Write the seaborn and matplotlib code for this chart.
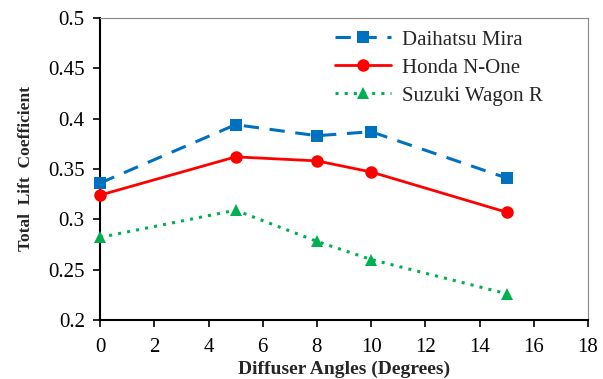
import matplotlib
matplotlib.use("Agg")
import matplotlib.pyplot as plt
import seaborn as sns
import pandas as pd

angles = [0, 5, 8, 10, 15]
daihatsu = [0.336, 0.394, 0.383, 0.387, 0.341]
honda = [0.324, 0.362, 0.358, 0.347, 0.307]
suzuki = [0.282, 0.309, 0.278, 0.260, 0.226]
names = ["Daihatsu Mira", "Honda N-One", "Suzuki Wagon R"]
colors = ["#0070C0", "#FF0000", "#00B050"]

sns.set_style("ticks")
plt.rcParams['font.family'] = ['Liberation Serif', 'DejaVu Serif']

fig = plt.figure(figsize=(6.03, 3.79), dpi=100)
ax = fig.add_axes([0.166, 0.156, 0.809, 0.7965])

styles = [dict(ls=(0, (5, 3.5)), marker="s", ms=9),
          dict(ls="-", marker="o", ms=9),
          dict(ls=(0, (1, 2)), marker="^", ms=8)]
for name, vals, c, st in zip(names, [daihatsu, honda, suzuki], colors, styles):
    df = pd.DataFrame({"x": angles, "y": vals})
    sns.lineplot(data=df, x="x", y="y", ax=ax, color=c, linestyle=st["ls"],
                 marker=st["marker"], markersize=st["ms"], markeredgewidth=0,
                 linewidth=2.2 if st["ls"] != "-" else 2, label=name,
                 clip_on=False, zorder=3)

ax.set_xlim(0, 18)
ax.set_ylim(0.2, 0.5)
ax.set_xticks(range(0, 19, 2))
ax.set_yticks([0.2, 0.25, 0.3, 0.35, 0.4, 0.45, 0.5])
ax.set_yticklabels(["0.2", "0.25", "0.3", "0.35", "0.4", "0.45", "0.5"])
ax.tick_params(labelsize=15, direction="out", length=5, width=1.2, colors="black")
ax.tick_params(axis="x", pad=8)
ax.tick_params(axis="y", pad=6)
ax.set_xlabel("Diffuser Angles (Degrees)", fontsize=14, fontweight="bold", labelpad=3)
ax.set_ylabel("Total  Lift  Coefficient", fontsize=12.5, fontweight="bold", labelpad=10)
for s in ["left", "bottom"]:
    ax.spines[s].set_color("black")
    ax.spines[s].set_linewidth(1.5)
for s in ["top", "right"]:
    ax.spines[s].set_visible(True)
    ax.spines[s].set_color("#888888")
    ax.spines[s].set_linewidth(0.8)
leg = ax.legend(loc="upper right", bbox_to_anchor=(0.945, 1.022), frameon=False,
                fontsize=15, handlelength=2.7, labelspacing=0.4, handletextpad=0.5)
fig.savefig("out.png", dpi=100)
